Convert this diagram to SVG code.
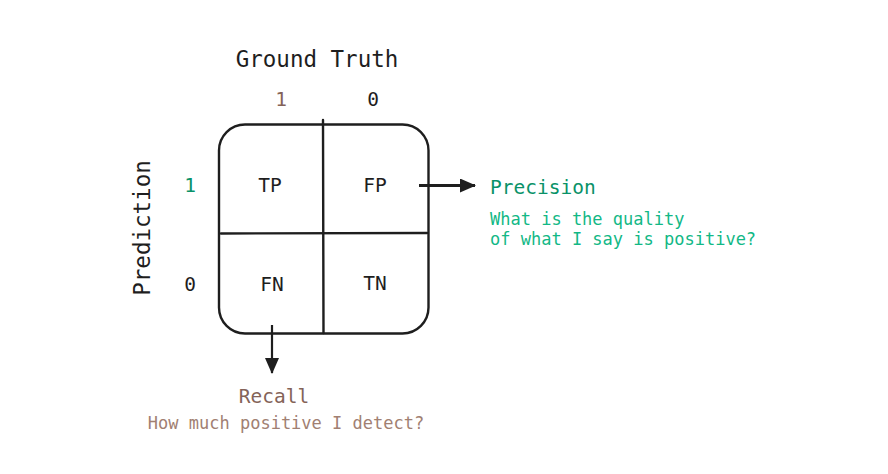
<svg xmlns="http://www.w3.org/2000/svg" width="888" height="474" viewBox="0 0 888 474">
<style>
text{font-family:"DejaVu Sans Mono","Liberation Mono",monospace;fill:#1e1e1e}
.t{font-size:22.5px}
.c{font-size:19.5px;text-anchor:middle}
.d{font-size:17px}
.ln{stroke:#1e1e1e;stroke-width:2.4;fill:none;stroke-linecap:round}
</style>
<defs>
<marker id="ah" viewBox="0 0 16 14" refX="15" refY="7" markerWidth="16" markerHeight="14" orient="auto" markerUnits="userSpaceOnUse">
<path d="M0,0 L16,7 L0,14 Z" fill="#1e1e1e"/>
</marker>
</defs>
<rect width="888" height="474" fill="#ffffff"/>
<g id="labels">
<text class="t" x="317" y="67" text-anchor="middle">Ground Truth</text>
<text class="c" x="281" y="106" style="fill:#846358">1</text>
<text class="c" x="373" y="106">0</text>
<text class="t" x="0" y="0" text-anchor="middle" transform="translate(150,228) rotate(-90)">Prediction</text>
<text class="c" x="190" y="192" style="fill:#099268">1</text>
<text class="c" x="190" y="291">0</text>
</g>
<g id="matrix">
<rect class="ln" x="219" y="124.5" width="209.5" height="209" rx="26"/>
<line class="ln" x1="323" y1="120" x2="323.5" y2="333"/>
<line class="ln" x1="221" y1="233.5" x2="427" y2="233"/>
</g>
<g id="tp"><text class="c" x="270" y="192">TP</text></g>
<g id="fp"><text class="c" x="375" y="192">FP</text></g>
<g id="fn"><text class="c" x="272" y="291">FN</text></g>
<g id="tn"><text class="c" x="375" y="290">TN</text></g>
<g id="connectors">
<line x1="419" y1="185.5" x2="475" y2="185.5" stroke="#1e1e1e" stroke-width="3" marker-end="url(#ah)"/>
<line x1="272" y1="325" x2="272" y2="373" stroke="#1e1e1e" stroke-width="2.2" marker-end="url(#ah)"/>
</g>
<g id="precision">
<text x="490" y="194" style="font-size:19.5px;fill:#099268">Precision</text>
<text class="d" x="490" y="225" style="fill:#12b886">What is the quality</text>
<text class="d" x="490" y="245" style="fill:#12b886">of what I say is positive?</text>
</g>
<g id="recall">
<text x="274" y="403" text-anchor="middle" style="font-size:19.5px;fill:#846358">Recall</text>
<text class="d" x="286" y="429" text-anchor="middle" style="fill:#a18072">How much positive I detect?</text>
</g>
</svg>
